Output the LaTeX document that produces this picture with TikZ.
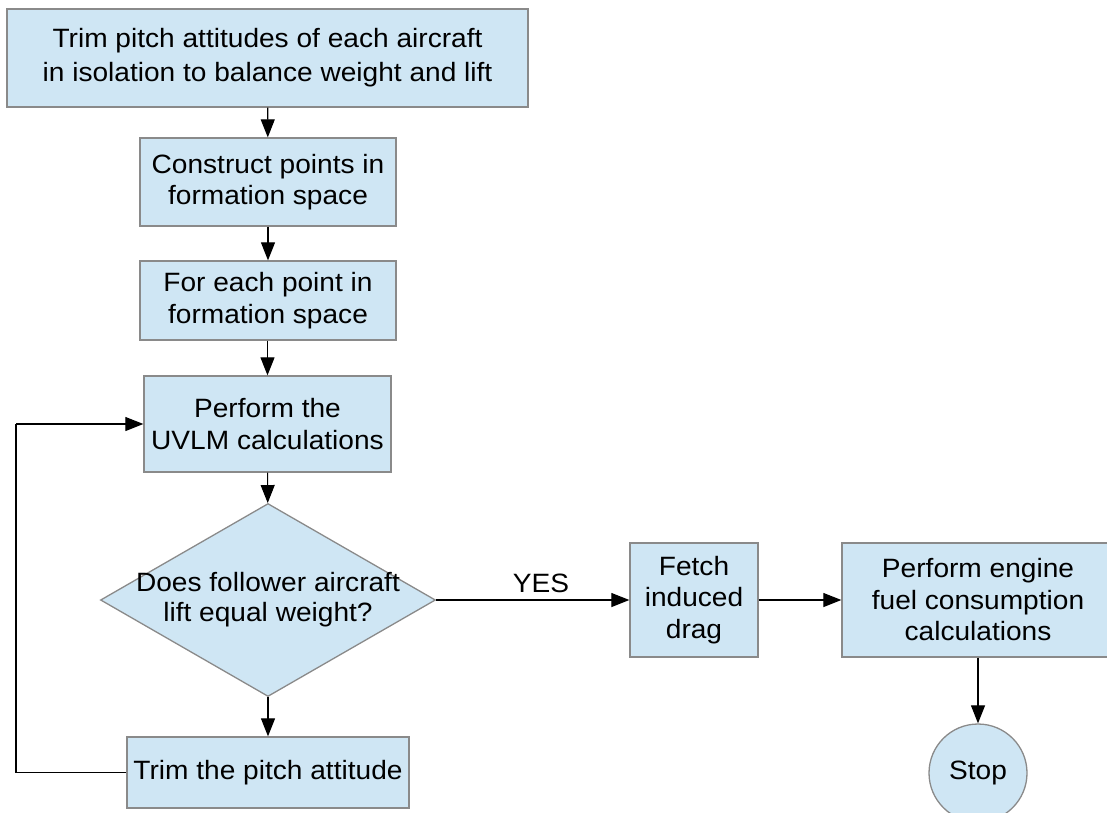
\documentclass[tikz,border=0pt]{standalone}
\usepackage{fontspec}
\setmainfont{Liberation Sans}[FakeStretch=1.06]
\usetikzlibrary{shapes.geometric,arrows.meta}
\definecolor{boxfill}{HTML}{CFE6F4}
\definecolor{boxline}{HTML}{8A8A8A}
\tikzset{
  flowbox/.style={draw=boxline, fill=boxfill, line width=1.3pt, align=center, inner sep=0pt,
    font=\fontsize{26.5}{31.5}\selectfont},
  decbox/.style={draw=boxline, fill=boxfill, line width=1.3pt, inner sep=0pt, diamond},
  dectext/.style={align=center, inner sep=0pt, font=\fontsize{26.5}{30}\selectfont},
  conn/.style={black, line width=1.1pt, -{Triangle[length=18pt,width=14pt]}},
  plainline/.style={black, line width=1.1pt},
}
\begin{document}
\begin{tikzpicture}[x=1pt,y=-1pt]
\useasboundingbox (0,0) rectangle (1107,812);
\node[flowbox, minimum width=521pt, minimum height=98pt, font=\fontsize{26.5}{34}\selectfont] (b1) at (267.5,58)
  {Trim pitch attitudes of each aircraft\\ in isolation to balance weight and lift};
\node[flowbox, minimum width=256pt, minimum height=88pt] (b2) at (268,182)
  {Construct points in\\formation space};
\node[flowbox, minimum width=256pt, minimum height=79pt] (b3) at (268,300.5)
  {For each point in\\formation space};
\node[flowbox, minimum width=247pt, minimum height=96pt] (b4) at (267.5,424)
  {Perform the\\UVLM calculations};
\node[decbox, minimum width=335pt, minimum height=193pt,
  label={[dectext]center:Does follower aircraft\\lift equal weight?}] (dec) at (268,600) {};
\node[flowbox, minimum width=282pt, minimum height=71pt] (b5) at (268,772.5)
  {Trim the pitch attitude};
\node[flowbox, minimum width=128pt, minimum height=114pt] (fetch) at (694,600)
  {Fetch\\induced\\drag};
\node[flowbox, minimum width=272pt, minimum height=114pt] (eng) at (978,600)
  {Perform engine\\fuel consumption\\calculations};
\node[flowbox, circle, minimum size=98pt] (stop) at (978,773) {Stop};
\node[font=\fontsize{26.5}{30}\selectfont, inner sep=0pt] (yes) at (541,583) {YES};
\coordinate (lb) at (16,772.5);
\coordinate (lt) at (16,424);

\draw[conn] (b1) -- (b2);
\draw[conn] (b2) -- (b3);
\draw[conn] (b3.south -| b4.north) -- (b4.north);
\draw[conn] (b4) -- (dec);
\draw[conn] (dec) -- (b5);
\draw[conn] (dec.east) -- (fetch.west);
\draw[conn] (fetch) -- (eng);
\draw[conn] (eng) -- (stop);
\draw[plainline] (b5.west) -- (lb) -- (lt);
\draw[conn] (lt) -- (b4.west);
\end{tikzpicture}
\end{document}
